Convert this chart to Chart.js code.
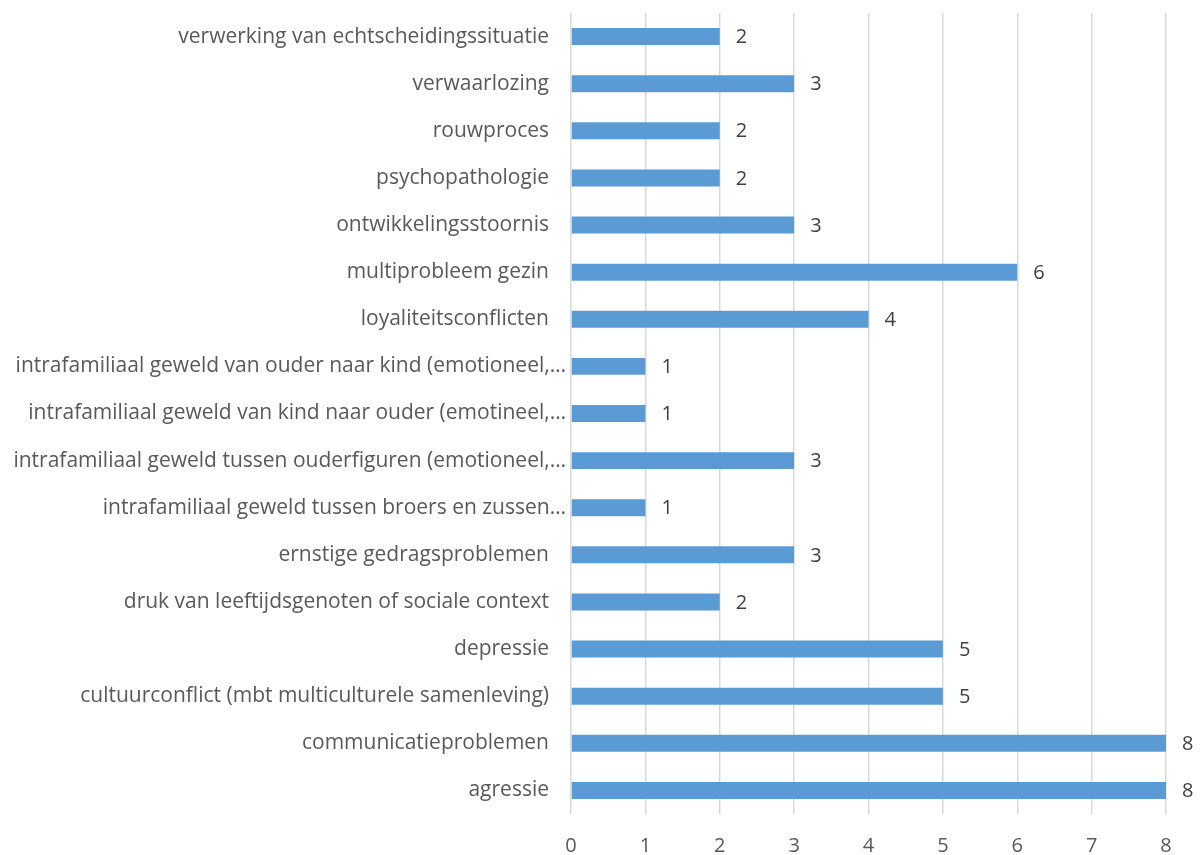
<!DOCTYPE html>
<html>
<head>
<meta charset="utf-8">
<script src="https://cdn.jsdelivr.net/npm/chart.js@4"></script>
<style>
html,body{margin:0;padding:0;background:#fff;}
#wrap{width:1203px;height:855px;position:relative;}
</style>
</head>
<body>
<div id="wrap"><canvas id="c" width="1203" height="855"></canvas></div>
<script>
const categories = [
  "verwerking van echtscheidingssituatie",
  "verwaarlozing",
  "rouwproces",
  "psychopathologie",
  "ontwikkelingsstoornis",
  "multiprobleem gezin",
  "loyaliteitsconflicten",
  "intrafamiliaal geweld van ouder naar kind (emotioneel,…",
  "intrafamiliaal geweld van kind naar ouder (emotineel,…",
  "intrafamiliaal geweld tussen ouderfiguren (emotioneel,…",
  "intrafamiliaal geweld tussen broers en zussen…",
  "ernstige gedragsproblemen",
  "druk van leeftijdsgenoten of sociale context",
  "depressie",
  "cultuurconflict (mbt multiculturele samenleving)",
  "communicatieproblemen",
  "agressie"
];
const values = [2,3,2,2,3,6,4,1,1,3,1,3,2,5,5,8,8];
const xTicks = [0,1,2,3,4,5,6,7,8];

const FONT = "'Open Sans'";
const LABEL_SIZE = 21;
const VALUE_SIZE = 20;
const TICK_SIZE = 20;

const valueLabels = {
  id: 'valueLabels',
  afterDatasetsDraw(chart) {
    const ctx = chart.ctx;
    const meta = chart.getDatasetMeta(0);
    ctx.save();
    ctx.font = VALUE_SIZE + 'px ' + FONT;
    ctx.fillStyle = '#404040';
    ctx.textAlign = 'left';
    ctx.textBaseline = 'middle';
    meta.data.forEach((bar, i) => {
      ctx.fillText(String(values[i]), bar.x + 16, bar.y + 1);
    });
    ctx.restore();
  }
};

const categoryLabels = {
  id: 'categoryLabels',
  afterDraw(chart) {
    const ctx = chart.ctx;
    const yScale = chart.scales.y;
    const left = chart.chartArea.left;
    ctx.save();
    ctx.font = LABEL_SIZE + 'px ' + FONT;
    ctx.fillStyle = '#595959';
    ctx.textAlign = 'right';
    ctx.textBaseline = 'middle';
    categories.forEach((lab, i) => {
      const y = yScale.getPixelForTick(i);
      const right = lab.endsWith('…') ? left - 5 : left - 22;
      ctx.fillText(lab, right, y);
    });
    ctx.restore();
  }
};

new Chart(document.getElementById('c'), {
  type: 'bar',
  data: {
    labels: categories,
    datasets: [{
      data: values,
      backgroundColor: '#5B9BD5',
      borderWidth: 0,
      barPercentage: 0.72,
      categoryPercentage: 0.5
    }]
  },
  plugins: [valueLabels, categoryLabels],
  options: {
    indexAxis: 'y',
    responsive: false,
    animation: false,
    layout: { padding: { top: 13, right: 37, left: 0, bottom: 0 } },
    plugins: { legend: { display: false }, tooltip: { enabled: false } },
    scales: {
      x: {
        min: 0, max: 8,
        afterBuildTicks(scale) { scale.ticks = xTicks.map(v => ({ value: v })); },
        grid: { color: '#D9D9D9', lineWidth: 1.5, drawTicks: false },
        border: { display: false },
        ticks: { color: '#595959', font: { family: FONT, size: TICK_SIZE }, padding: 20 },
        afterFit(scale) { scale.height = 855 - 814; }
      },
      y: {
        grid: { display: false, drawTicks: false },
        border: { display: false },
        ticks: { display: false },
        afterFit(scale) { scale.width = 571; }
      }
    }
  }
});
</script>
</body>
</html>
